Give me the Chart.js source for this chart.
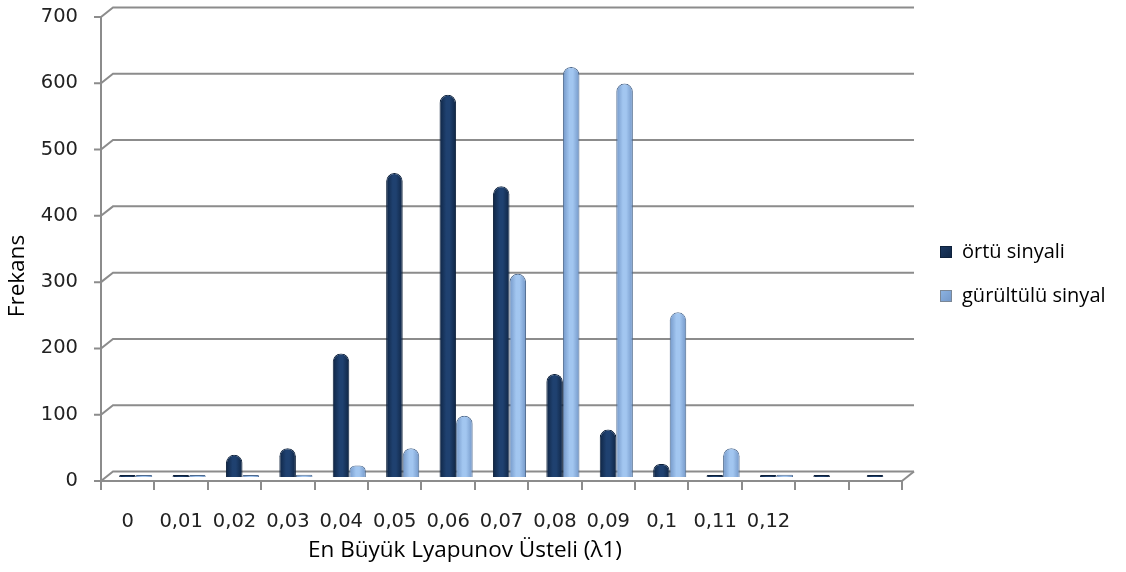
<!DOCTYPE html>
<html>
<head>
<meta charset="utf-8">
<script src="https://cdn.jsdelivr.net/npm/chart.js@4/dist/chart.umd.min.js"></script>
<style>
  html, body { margin: 0; padding: 0; background: #fff; }
  #wrap { width: 1126px; height: 572px; }
</style>
</head>
<body>
<div id="wrap"><canvas id="c" width="1126" height="572"></canvas></div>
<script>
// Lyapunov exponent classes (last two classes carry no label)
const categories = ['0', '0,01', '0,02', '0,03', '0,04', '0,05', '0,06', '0,07', '0,08', '0,09', '0,1', '0,11', '0,12', '', ''];
const ortuSinyali = [1, 1, 35, 45, 188, 460, 578, 440, 157, 73, 21, 3, 1, 1, 1];
const gurultuluSinyal = [1, 1, 2, 5, 19, 45, 94, 308, 620, 595, 250, 45, 5, null, null];
const seriesNames = ['örtü sinyali', 'gürültülü sinyal'];
const yTicks = [0, 100, 200, 300, 400, 500, 600, 700];

const GRID = '#8c8c8c';
const DEPTH_X = 12, DEPTH_Y = 9.5;   // back wall offset
const BAR_SHIFT_X = 8, BAR_SHIFT_Y = -3;
const Y_TICK_MARK = 7;
const CAT_PCT = 0.62;
const FONT_TICK = '"DejaVu Sans", Verdana, sans-serif';
const FONT_TEXT = '"Open Sans", Lato, sans-serif';

const palettes = [
  { edge: '#0f2544', mid: '#1f4170', border: '#0e213b', legend: '#1c3a63' },
  { edge: '#7397c8', mid: '#a2c6f0', border: '#4e6a8e', legend: '#8db4e3' }
];

// cylinder-like horizontal shading computed from the category scale
function cylFill(di) {
  return (ctx) => {
    const chart = ctx.chart, x = chart.scales && chart.scales.x;
    const p = palettes[di];
    if (!x || !chart.chartArea || ctx.dataIndex === undefined) return p.mid;
    const c = x.getPixelForValue(ctx.dataIndex);
    const w = (x.width / categories.length) * CAT_PCT / 2;
    const left = c - w + di * w, right = left + w;
    const g = chart.ctx.createLinearGradient(left, 0, right, 0);
    g.addColorStop(0, p.edge);
    g.addColorStop(0.4, p.mid);
    g.addColorStop(0.6, p.mid);
    g.addColorStop(1, p.edge);
    return g;
  };
}

const wallPlugin = {
  id: 'wall',
  beforeDatasetsDraw(chart) {
    const { ctx, chartArea: a, scales: { y } } = chart;
    ctx.save();
    ctx.strokeStyle = GRID;
    ctx.lineWidth = 2;
    y.ticks.forEach(t => {
      const py = y.getPixelForValue(t.value);
      ctx.beginPath();
      ctx.moveTo(a.left - Y_TICK_MARK, py);
      ctx.lineTo(a.left, py);
      ctx.lineTo(a.left + DEPTH_X, py - DEPTH_Y);
      ctx.lineTo(a.right + DEPTH_X, py - DEPTH_Y);
      ctx.stroke();
    });
    ctx.beginPath();
    ctx.moveTo(a.right, a.bottom);
    ctx.lineTo(a.right + DEPTH_X, a.bottom - DEPTH_Y);
    ctx.stroke();
    ctx.restore();
    ctx.save();
    ctx.translate(BAR_SHIFT_X, BAR_SHIFT_Y);
  },
  afterDatasetsDraw(chart) {
    chart.ctx.restore();
  },
  afterDraw(chart) {
    const { ctx, chartArea: a } = chart;
    ctx.save();
    ctx.fillStyle = '#000';
    ctx.textBaseline = 'middle';
    // axis titles
    ctx.textAlign = 'center';
    ctx.font = '22.5px ' + FONT_TEXT;
    ctx.fillText('En Büyük Lyapunov Üsteli (λ1)', a.left + 364, a.bottom + 70);
    ctx.save();
    ctx.translate(a.left - 83, a.top + 259);
    ctx.rotate(-Math.PI / 2);
    ctx.fillText('Frekans', 0, 0);
    ctx.restore();
    // legend
    ctx.textAlign = 'left';
    ctx.font = '20px ' + FONT_TEXT;
    chart.data.datasets.forEach((ds, i) => {
      const yy = a.top + 235 + i * 44;
      const bx = a.right + 38;
      const p = palettes[i];
      const g = ctx.createLinearGradient(bx, yy - 6, bx + 12, yy + 6);
      g.addColorStop(0, p.legend);
      g.addColorStop(1, p.edge);
      ctx.fillStyle = g;
      ctx.fillRect(bx, yy - 6, 12, 12);
      ctx.strokeStyle = i ? '#7b8796' : p.border;
      ctx.lineWidth = 1;
      ctx.strokeRect(bx + 0.5, yy - 5.5, 11, 11);
      ctx.fillStyle = '#000';
      ctx.fillText(ds.label, bx + 22, yy);
    });
    ctx.restore();
  }
};

new Chart(document.getElementById('c'), {
  type: 'bar',
  data: {
    labels: categories,
    datasets: [
      {
        label: seriesNames[0],
        data: ortuSinyali,
        backgroundColor: cylFill(0),
        borderColor: palettes[0].border,
        borderWidth: 1,
        borderSkipped: 'bottom',
        borderRadius: { topLeft: 8, topRight: 8, bottomLeft: 0, bottomRight: 0 },
        minBarLength: 3
      },
      {
        label: seriesNames[1],
        data: gurultuluSinyal,
        backgroundColor: cylFill(1),
        borderColor: palettes[1].border,
        borderWidth: 1,
        borderSkipped: 'bottom',
        borderRadius: { topLeft: 8, topRight: 8, bottomLeft: 0, bottomRight: 0 },
        minBarLength: 3
      }
    ]
  },
  options: {
    responsive: false,
    animation: false,
    events: [],
    datasets: { bar: { categoryPercentage: CAT_PCT, barPercentage: 1.0 } },
    layout: { padding: { top: 17, right: 224, left: 0, bottom: 0 } },
    plugins: {
      legend: { display: false },
      tooltip: { enabled: false }
    },
    scales: {
      x: {
        grid: { display: true, drawOnChartArea: false, drawTicks: true, tickLength: 9, color: GRID, lineWidth: 2, offset: true },
        border: { display: true, color: GRID, width: 2 },
        ticks: { color: '#222', font: { family: FONT_TICK, size: 19.5, lineHeight: 1 }, padding: 22, maxRotation: 0, autoSkip: false },
        afterFit(s) { s.height = 91; }
      },
      y: {
        min: 0,
        max: 700,
        afterBuildTicks(s) { s.ticks = yTicks.map(v => ({ value: v })); },
        // tick marks are drawn by the wall plugin; the long transparent tick only spaces the labels
        grid: { display: true, drawOnChartArea: false, drawTicks: true, tickLength: 22, tickColor: 'rgba(0,0,0,0)', color: GRID, lineWidth: 2 },
        border: { display: true, color: GRID, width: 2 },
        ticks: { color: '#222', font: { family: FONT_TICK, size: 19.5, lineHeight: 1 }, padding: 1 },
        afterFit(s) { s.width = 101; }
      }
    }
  },
  plugins: [wallPlugin]
});
</script>
</body>
</html>
